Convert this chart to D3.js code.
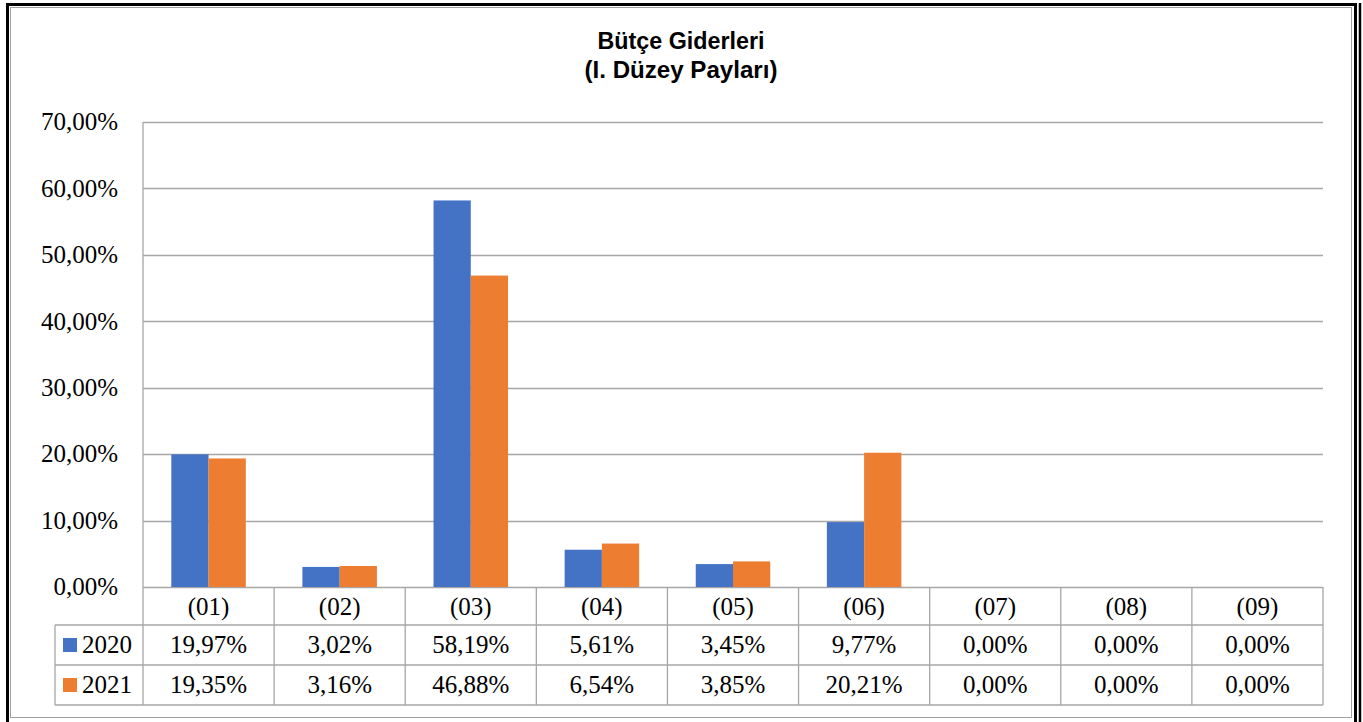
<!DOCTYPE html>
<html>
<head>
<meta charset="utf-8">
<script src="https://cdn.jsdelivr.net/npm/d3@7"></script>
<style>
  body { margin: 0; background: #fff; }
  svg { display: block; }
</style>
</head>
<body>
<svg id="chart" width="1363" height="722"></svg>
<script>
var categories = ["(01)", "(02)", "(03)", "(04)", "(05)", "(06)", "(07)", "(08)", "(09)"]
var years = ["2020", "2021"]
var values2020 = [19.97, 3.02, 58.19, 5.61, 3.45, 9.77, 0, 0, 0]
var values2021 = [19.35, 3.16, 46.88, 6.54, 3.85, 20.21, 0, 0, 0]
var yTicks = [0, 10, 20, 30, 40, 50, 60, 70]
var titleLines = ["Bütçe Giderleri", "(I. Düzey Payları)"]

var svg = d3.select("#chart")
var colors = { "2020": "#4472C4", "2021": "#ED7D31" }
var gridColor = "#a6a6a6"
var serif = "'Liberation Serif', 'Times New Roman', serif"

var fmt = function (v) { return v.toFixed(2).replace(".", ",") + "%" }

// frame
svg.append("rect").attr("x", 10.5).attr("y", 7.5).attr("width", 1341).attr("height", 710)
    .attr("fill", "none").attr("stroke", "#a0a0a0").attr("stroke-width", 1)
svg.append("rect").attr("x", 7.5).attr("y", 4.5).attr("width", 1348).attr("height", 730)
    .attr("fill", "none").attr("stroke", "#000").attr("stroke-width", 3)
svg.append("line").attr("x1", 1360).attr("x2", 1360).attr("y1", 3).attr("y2", 722)
    .attr("stroke", "#000").attr("stroke-width", 2.5)

// title (condensed bold look via textLength)
var titleWidths = [167, 193]
var title = svg.append("text")
    .attr("text-anchor", "middle")
    .style("font-family", "'Liberation Sans', Arial, sans-serif")
    .style("font-weight", "bold")
    .style("font-size", "23px")
titleLines.forEach(function (t, i) {
    title.append("tspan").attr("x", 681).attr("y", 49 + i * 29)
        .attr("textLength", titleWidths[i])
        .attr("lengthAdjust", "spacingAndGlyphs")
        .text(t)
})

var plotLeft = 143, plotRight = 1323, plotTop = 122, zeroY = 587

var x = d3.scaleBand()
    .domain(categories)
    .range([plotLeft, plotRight])

var y = d3.scaleLinear()
    .domain([0, 70])
    .range([zeroY, plotTop])

var x1 = d3.scaleBand()
    .domain(years)
    .range([0, x.bandwidth()])
    .paddingOuter(0.76)

// gridlines
svg.append("g").selectAll("line")
    .data(yTicks)
    .enter()
    .append("line")
    .attr("x1", plotLeft)
    .attr("x2", plotRight)
    .attr("y1", function (d) { return Math.round(y(d)) + 0.5 })
    .attr("y2", function (d) { return Math.round(y(d)) + 0.5 })
    .attr("stroke", gridColor)
    .attr("stroke-width", 1.3)

// y tick labels
svg.append("g").selectAll("text")
    .data(yTicks)
    .enter()
    .append("text")
    .attr("x", 118)
    .attr("y", function (d) { return y(d) })
    .attr("dy", "0.33em")
    .attr("text-anchor", "end")
    .style("font-family", serif)
    .style("font-size", "25px")
    .style("fill", "#000")
    .text(function (d) { return fmt(d) })

// bars
var series = years.map(function (yr, i) {
    return { year: yr, values: i === 0 ? values2020 : values2021 }
})
series.forEach(function (s) {
    svg.append("g").selectAll("rect")
        .data(s.values)
        .enter()
        .append("rect")
        .attr("x", function (d, i) { return x(categories[i]) + x1(s.year) })
        .attr("y", function (d) { return y(d) })
        .attr("width", x1.bandwidth())
        .attr("height", function (d) { return zeroY - y(d) })
        .attr("fill", colors[s.year])
})

// data table
var rowH = [38, 40, 40]
var rowTop = [zeroY, zeroY + rowH[0], zeroY + rowH[0] + rowH[1]]
var tableBottom = rowTop[2] + rowH[2]
var legendLeft = 55
var table = svg.append("g").attr("stroke", gridColor).attr("stroke-width", 1.3)

// vertical lines
categories.concat(["end"]).forEach(function (c, i) {
    var xx = i < categories.length ? x(c) : plotRight
    table.append("line").attr("x1", xx).attr("x2", xx)
        .attr("y1", i === 0 ? plotTop : zeroY).attr("y2", tableBottom)
})
table.append("line").attr("x1", legendLeft).attr("x2", legendLeft)
    .attr("y1", rowTop[1]).attr("y2", tableBottom)
// horizontal lines
table.append("line").attr("x1", legendLeft).attr("x2", plotRight).attr("y1", rowTop[1]).attr("y2", rowTop[1])
table.append("line").attr("x1", legendLeft).attr("x2", plotRight).attr("y1", rowTop[2]).attr("y2", rowTop[2])
table.append("line").attr("x1", legendLeft).attr("x2", plotRight).attr("y1", tableBottom).attr("y2", tableBottom)

// category labels
svg.append("g").selectAll("text")
    .data(categories)
    .enter()
    .append("text")
    .attr("x", function (d) { return x(d) + x.bandwidth() / 2 })
    .attr("y", rowTop[0] + rowH[0] / 2 + 1)
    .attr("dy", "0.33em")
    .attr("text-anchor", "middle")
    .style("font-family", serif)
    .style("font-size", "25px")
    .text(function (d) { return d })

series.forEach(function (s, r) {
    var cy = rowTop[r + 1] + rowH[r + 1] / 2
    svg.append("rect")
        .attr("x", 63).attr("y", cy - 7)
        .attr("width", 14).attr("height", 14)
        .attr("fill", colors[s.year])
    svg.append("text")
        .attr("x", 82).attr("y", cy)
        .attr("dy", "0.33em")
        .style("font-family", serif)
        .style("font-size", "25px")
        .text(s.year)
    svg.append("g").selectAll("text")
        .data(s.values)
        .enter()
        .append("text")
        .attr("x", function (d, i) { return x(categories[i]) + x.bandwidth() / 2 })
        .attr("y", cy)
        .attr("dy", "0.33em")
        .attr("text-anchor", "middle")
        .style("font-family", serif)
        .style("font-size", "25px")
        .text(function (d) { return fmt(d) })
})
</script>
</body>
</html>
